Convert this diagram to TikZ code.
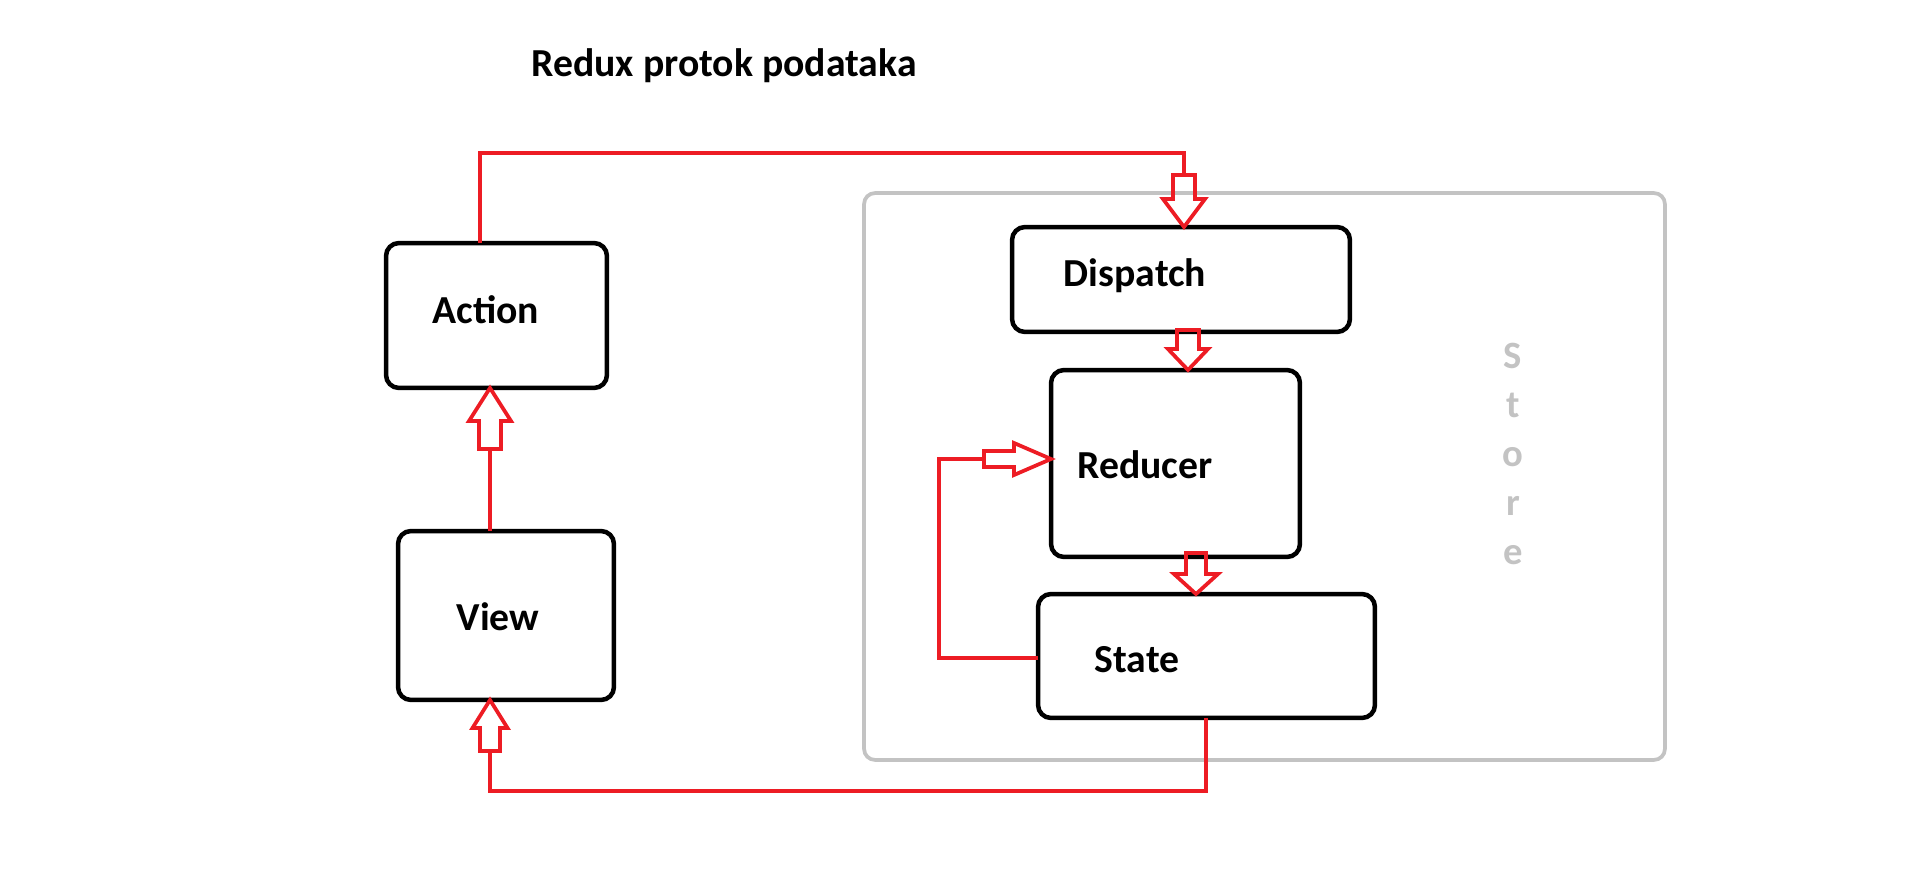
\documentclass[tikz,border=0pt]{standalone}
\usepackage{fontspec}
\setmainfont{Carlito}
\usetikzlibrary{calc}
\definecolor{paintred}{RGB}{237,28,36}
\definecolor{paintgray}{RGB}{195,195,195}
% hollow block arrow: tip, angle, head length, head width, shaft length, shaft width, tail name
\newcommand{\blockarrow}[7]{%
	\begin{scope}[shift={(#1)}, rotate=#2]
		\draw[hollow] (0,0) -- (-#3,#4/2) -- (-#3,#6/2) -- (-#3-#5,#6/2) -- (-#3-#5,-#6/2) -- (-#3,-#6/2) -- (-#3,-#4/2) -- cycle;
		\coordinate (#7) at (-#3-#5,0);
	\end{scope}}
\tikzset{
	box/.style={draw=black, line width=0.09cm, rounded corners=0.26cm, inner sep=0pt, outer sep=0pt},
	storebox/.style={draw=paintgray, line width=0.075cm, rounded corners=0.22cm, inner sep=0pt, outer sep=0pt},
	flow/.style={draw=paintred, line width=0.085cm},
	hollow/.style={draw=paintred, line width=0.075cm},
	lbl/.style={font=\fontsize{22.6}{26}\selectfont\bfseries, anchor=base, inner sep=0pt},
	storetxt/.style={font=\fontsize{22}{26}\selectfont\bfseries, text=paintgray, anchor=base, inner sep=0pt}
}

\begin{document}
\begin{tikzpicture}[x=0.02cm, y=-0.02cm]
	%%%%% START %%%%%
	\useasboundingbox (0,0) rectangle (1914,885);
	
	\node[lbl] (title) at (724,77) {Redux protok podataka};
	
	% store
	\node[storebox, minimum width=16.02cm, minimum height=11.34cm] (store) at (1264.5,476.5) {};
	\foreach \ch [count=\i] in {S,t,o,r,e}
		\node[storetxt] (store\i) at (1513,{368+49*(\i-1)}) {\ch};
	
	% boxes
	\node[box, minimum width=4.42cm, minimum height=2.90cm] (action) at (496.5,315.5) {};
	\node[box, minimum width=4.32cm, minimum height=3.38cm] (view) at (506,615.5) {};
	\node[box, minimum width=6.76cm, minimum height=2.10cm] (dispatch) at (1181,279.5) {};
	\node[box, minimum width=4.98cm, minimum height=3.74cm] (reducer) at (1175.5,463.5) {};
	\node[box, minimum width=6.74cm, minimum height=2.48cm] (state) at (1206.5,656) {};
	
	\node[lbl] (actionlbl) at (486,323) {Action};
	\node[lbl] (viewlbl) at (498,630) {View};
	\node[lbl] (dispatchlbl) at (1135,287) {Dispatch};
	\node[lbl] (reducerlbl) at (1145,478) {Reducer};
	\node[lbl] (statelbl) at (1137,672) {State};
	
	% arrows
	\blockarrow{[xshift=0.06cm]dispatch.north}{-90}{28}{42}{24}{22}{todispatch}
	\blockarrow{[xshift=0.25cm]reducer.north}{-90}{21}{40}{19}{22}{toreducer}
	\blockarrow{[xshift=-0.21cm]state.north}{-90}{20}{44}{21}{20}{tostate}
	\blockarrow{[yshift=0.09cm]reducer.west}{0}{37}{32}{30}{16}{toreducerside}
	\blockarrow{[xshift=-0.13cm]action.south}{90}{33}{42}{28}{22}{toaction}
	\blockarrow{[xshift=-0.32cm]view.south}{90}{28}{35}{23}{20}{toview}
	
	% connectors
	\coordinate (upL) at (480,153);
	\coordinate (dnR) at (1206,791);
	\coordinate (loopB) at (939,658);
	\draw[flow] (action.north -| upL) -- (upL) -| (todispatch);
	\draw[flow] (view.north -| toaction) -- (toaction);
	\draw[flow] (state.south -| dnR) -- (dnR) -| (toview);
	\draw[flow] (state.west |- loopB) -- (loopB) |- (toreducerside);
	
	%%%%% END %%%%%
\end{tikzpicture}
\end{document}
